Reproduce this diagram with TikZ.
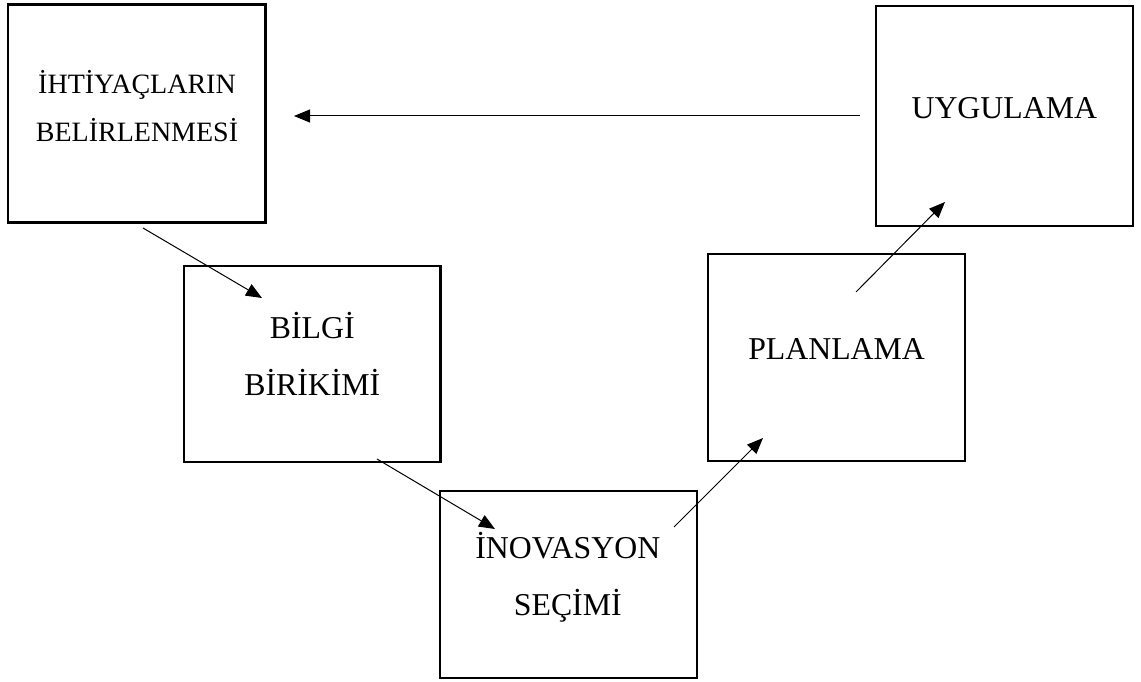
\documentclass[tikz,border=0pt]{standalone}
\usepackage{fontspec}
\setmainfont{Liberation Serif}
\usetikzlibrary{arrows.meta}
\begin{document}
\begin{tikzpicture}[x=1pt,y=-1pt,
  stagebox/.style={draw,line width=2.2pt,rectangle,inner sep=0pt},
  lblbig/.style={align=center,anchor=base,inner sep=0pt,font=\fontsize{28}{47.8}\selectfont},
  lbl/.style={align=center,anchor=base,inner sep=0pt,font=\fontsize{31.8}{56.5}\selectfont},
  flow/.style={line width=1pt,-{Triangle[length=16pt,width=13pt]}}]
  \useasboundingbox (0,0) rectangle (1141,682);

  % stage frames
  \node[stagebox,minimum width=257.5pt,minimum height=218pt] (needs) at (136.8,113.5) {};
  \node[stagebox,minimum width=256.5pt,minimum height=196pt] (know) at (312.3,364) {};
  \node[stagebox,minimum width=257pt,minimum height=187pt] (select) at (568.5,584.5) {};
  \node[stagebox,minimum width=257pt,minimum height=207pt] (plan) at (836.5,357.5) {};
  \node[stagebox,minimum width=257pt,minimum height=220pt] (apply) at (1004.5,116) {};

  % stage titles (anchored on the baseline of the last line)
  \node[lblbig] (needsT) at (137,141.7) {İHTİYAÇLARIN\\BELİRLENMESİ};
  \node[lbl] (knowT) at (312.3,395) {BİLGİ\\BİRİKİMİ};
  \node[lbl] (selectT) at (567.8,615) {İNOVASYON\\SEÇİMİ};
  \node[lbl] (planT) at (836.6,359.3) {PLANLAMA};
  \node[lbl] (applyT) at (1004.3,118.3) {UYGULAMA};

  % arrow end points
  \coordinate (aS) at (860,116);   \coordinate (aE) at (294,116);
  \coordinate (bS) at (143,228);   \coordinate (bE) at (262,298);
  \coordinate (cS) at (377,459);   \coordinate (cE) at (495,529);
  \coordinate (dS) at (674,527);   \coordinate (dE) at (763,438);
  \coordinate (eS) at (856,292);   \coordinate (eE) at (945,202);

  % cycle arrows
  \draw[flow] (aS) -- (aE);
  \draw[flow] (bS) -- (bE);
  \draw[flow] (cS) -- (cE);
  \draw[flow] (dS) -- (dE);
  \draw[flow] (eS) -- (eE);
\end{tikzpicture}
\end{document}
